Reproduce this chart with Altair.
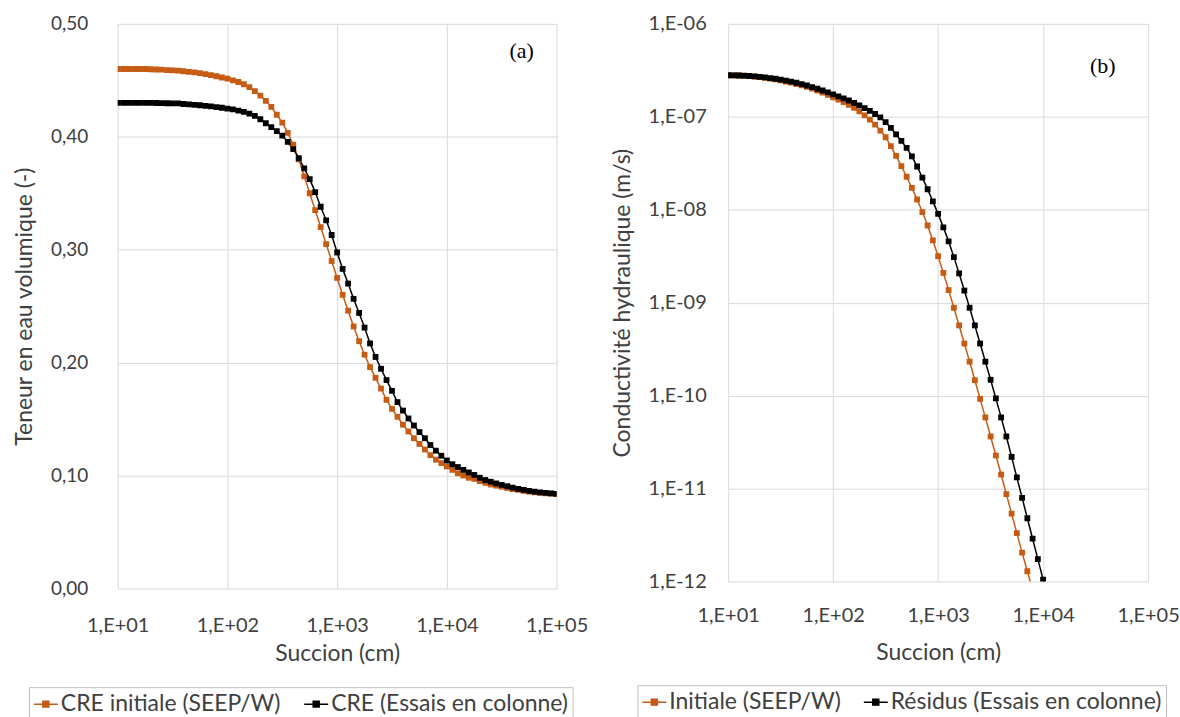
import altair as alt
import pandas as pd

# log10 of suction (cm), 20 points per decade as in the reference
LOG_SUCCION = [
    1.00, 1.05, 1.10, 1.15, 1.20, 1.25, 1.30, 1.35, 1.40, 1.45,
    1.50, 1.55, 1.60, 1.65, 1.70, 1.75, 1.80, 1.85, 1.90, 1.95,
    2.00, 2.05, 2.10, 2.15, 2.20, 2.25, 2.30, 2.35, 2.40, 2.45,
    2.50, 2.55, 2.60, 2.65, 2.70, 2.75, 2.80, 2.85, 2.90, 2.95,
    3.00, 3.05, 3.10, 3.15, 3.20, 3.25, 3.30, 3.35, 3.40, 3.45,
    3.50, 3.55, 3.60, 3.65, 3.70, 3.75, 3.80, 3.85, 3.90, 3.95,
    4.00, 4.05, 4.10, 4.15, 4.20, 4.25, 4.30, 4.35, 4.40, 4.45,
    4.50, 4.55, 4.60, 4.65, 4.70, 4.75, 4.80, 4.85, 4.90, 4.95,
    5.00,
]

# (a) water retention curves
THETA_INITIALE = [
    0.4600, 0.4600, 0.4600, 0.4600, 0.4600, 0.4600, 0.4598, 0.4596, 0.4594, 0.4591,
    0.4588, 0.4585, 0.4580, 0.4575, 0.4570, 0.4563, 0.4555, 0.4546, 0.4536, 0.4525,
    0.4515, 0.4500, 0.4485, 0.4465, 0.4440, 0.4405, 0.4365, 0.4318, 0.4265, 0.4195,
    0.4125, 0.4035, 0.3930, 0.3800, 0.3650, 0.3500, 0.3350, 0.3200, 0.3050, 0.2900,
    0.2750, 0.2600, 0.2460, 0.2320, 0.2190, 0.2070, 0.1960, 0.1865, 0.1770, 0.1670,
    0.1590, 0.1520, 0.1450, 0.1390, 0.1330, 0.1280, 0.1230, 0.1180, 0.1140, 0.1110,
    0.1080, 0.1050, 0.1020, 0.1000, 0.0980, 0.0970, 0.0950, 0.0935, 0.0920, 0.0910,
    0.0900, 0.0890, 0.0880, 0.0872, 0.0865, 0.0858, 0.0852, 0.0847, 0.0843, 0.0839,
    0.0835,
]
THETA_COLONNE = [
    0.4300, 0.4300, 0.4300, 0.4300, 0.4300, 0.4300, 0.4300, 0.4299, 0.4298, 0.4297,
    0.4296, 0.4295, 0.4290, 0.4287, 0.4283, 0.4279, 0.4274, 0.4269, 0.4263, 0.4257,
    0.4250, 0.4242, 0.4232, 0.4220, 0.4205, 0.4185, 0.4155, 0.4120, 0.4085, 0.4050,
    0.4010, 0.3955, 0.3890, 0.3810, 0.3720, 0.3625, 0.3510, 0.3380, 0.3260, 0.3130,
    0.2975, 0.2830, 0.2700, 0.2565, 0.2440, 0.2310, 0.2170, 0.2050, 0.1945, 0.1845,
    0.1750, 0.1650, 0.1575, 0.1505, 0.1443, 0.1385, 0.1330, 0.1270, 0.1220, 0.1175,
    0.1133, 0.1100, 0.1075, 0.1050, 0.1027, 0.1005, 0.0980, 0.0960, 0.0945, 0.0930,
    0.0917, 0.0905, 0.0893, 0.0882, 0.0872, 0.0864, 0.0857, 0.0851, 0.0846, 0.0842,
    0.0838,
]

# (b) log10 of hydraulic conductivity (m/s)
LOGK_INITIALE = [
    -6.553, -6.554, -6.556, -6.559, -6.563, -6.568, -6.574, -6.581, -6.589, -6.598,
    -6.608, -6.620, -6.633, -6.647, -6.662, -6.679, -6.697, -6.717, -6.739, -6.763,
    -6.790, -6.815, -6.842, -6.872, -6.905, -6.942, -6.984, -7.030, -7.085, -7.148,
    -7.220, -7.315, -7.420, -7.530, -7.645, -7.765, -7.890, -8.025, -8.170, -8.330,
    -8.500, -8.680, -8.865, -9.055, -9.245, -9.440, -9.635, -9.835, -10.035, -10.235,
    -10.440, -10.645, -10.850, -11.060, -11.270, -11.480, -11.690, -11.890, -12.090,
]
LOGK_RESIDUS = [
    -6.553, -6.554, -6.556, -6.558, -6.561, -6.565, -6.570, -6.576, -6.583, -6.591,
    -6.600, -6.610, -6.621, -6.634, -6.648, -6.663, -6.680, -6.698, -6.717, -6.737,
    -6.758, -6.780, -6.802, -6.825, -6.850, -6.877, -6.906, -6.936, -6.970, -7.007,
    -7.058, -7.120, -7.190, -7.260, -7.335, -7.425, -7.535, -7.655, -7.780, -7.910,
    -8.045, -8.190, -8.340, -8.510, -8.685, -8.870, -9.055, -9.245, -9.440, -9.635,
    -9.830, -10.030, -10.235, -10.440, -10.660, -10.880, -11.100, -11.320, -11.540, -11.760,
    -11.980, -12.200,
]

SERIES_A = ["CRE initiale (SEEP/W)", "CRE (Essais en colonne)"]
SERIES_B = ["Initiale (SEEP/W)", "Résidus (Essais en colonne)"]
COLORS = ["#C65B14", "#000000"]

X_TICKS = [10, 100, 1000, 10000, 100000]
Y_TICKS_A = [0.0, 0.1, 0.2, 0.3, 0.4, 0.5]
Y_TICKS_B = [1e-12, 1e-11, 1e-10, 1e-9, 1e-8, 1e-7, 1e-6]

ANNOT_A = {"label": ["(a)"], "succion": [48000], "valeur": [0.476]}
ANNOT_B = {"label": ["(b)"], "succion": [37000], "valeur": [3.5e-7]}

FONT = "Lato"
TXT = "#404040"
SYMBOL = "M-1,0H1M-0.25,-0.25H0.25V0.25H-0.25Z"


def make_df(series, arrays, as_log):
    rows = []
    for name, vals in zip(series, arrays):
        for lx, v in zip(LOG_SUCCION, vals):
            rows.append({"serie": name, "succion": 10 ** lx,
                         "valeur": (10 ** v) if as_log else v})
    return pd.DataFrame(rows)


df_a = make_df(SERIES_A, [THETA_INITIALE, THETA_COLONNE], False)
df_b = make_df(SERIES_B, [LOGK_INITIALE, LOGK_RESIDUS], True)


def panel(df, series, annot, yenc, width, height, x_label_pad, x_title_pad,
          legend_x, legend_y):
    xenc = alt.X(
        "succion:Q",
        scale=alt.Scale(type="log", domain=[10, 100000], nice=False),
        axis=alt.Axis(
            values=X_TICKS, title="Succion (cm)",
            labelExpr="'1,E+0' + round(log(datum.value) / LN10)",
            labelPadding=x_label_pad, titlePadding=x_title_pad,
            labelFlush=False, labelOverlap=False, labelFontSize=20,
        ),
    )
    cscale = alt.Scale(domain=series, range=COLORS)
    legend = alt.Legend(
        title=None, orient="none", legendX=legend_x, legendY=legend_y,
        direction="horizontal", symbolType=SYMBOL, symbolSize=576,
        symbolStrokeWidth=1.5, labelFont=FONT, labelFontSize=23,
        labelColor=TXT, strokeColor="#BFBFBF", padding=4,
        columnPadding=20, labelOffset=2, labelLimit=400,
    )
    base = alt.Chart(df).encode(x=xenc, y=yenc)
    line = base.mark_line(strokeWidth=1.5, clip=True).encode(
        stroke=alt.Stroke("serie:N", scale=cscale, legend=legend)
    )
    pts = base.mark_point(shape="square", filled=True, size=34, opacity=1, clip=True).encode(
        fill=alt.Fill("serie:N", scale=cscale, legend=legend)
    )
    text = alt.Chart(pd.DataFrame(annot)).mark_text(
        font="Liberation Serif", fontSize=22, color="#000000"
    ).encode(x=xenc, y=yenc, text="label:N")
    return alt.layer(line, pts, text).properties(width=width, height=height)


yenc_a = alt.Y(
    "valeur:Q",
    scale=alt.Scale(domain=[0, 0.5], nice=False, zero=False),
    axis=alt.Axis(
        values=Y_TICKS_A, title="Teneur en eau volumique (-)",
        labelExpr="replace(format(datum.value, '.2f'), '.', ',')",
        labelPadding=30, titlePadding=14, labelFlush=False, labelOverlap=False,
        labelFontSize=19,
    ),
)
yenc_b = alt.Y(
    "valeur:Q",
    scale=alt.Scale(type="log", domain=[1e-12, 1e-6], nice=False),
    axis=alt.Axis(
        values=Y_TICKS_B, title="Conductivité hydraulique (m/s)",
        labelExpr="'1,E-' + (round(-log(datum.value) / LN10) < 10 ? '0' : '') + round(-log(datum.value) / LN10)",
        labelPadding=22, titlePadding=14, labelFlush=False, labelOverlap=False,
        labelFontSize=20,
    ),
)

left = panel(df_a, SERIES_A, ANNOT_A, yenc_a, 440, 566, 27, 7, -89, 665)
right = panel(df_b, SERIES_B, ANNOT_B, yenc_b, 421, 559, 24, 16, -91, 663)

chart = alt.hconcat(left, right, spacing=22).resolve_scale(
    x="independent", y="independent", stroke="independent", fill="independent"
).resolve_legend(stroke="independent", fill="independent").properties(
    padding={"left": 13, "top": 13, "right": 0, "bottom": 0},
    background="white",
).configure_view(stroke=None).configure_axis(
    grid=True, gridColor="#D9D9D9", gridWidth=1, domain=False,
    ticks=False, tickSize=0,
    labelFont=FONT, labelFontSize=18, labelColor=TXT,
    titleFont=FONT, titleFontSize=23, titleColor=TXT, titleFontWeight="normal",
)

chart.save("out.html", embed_options={"renderer": "svg", "actions": False})
